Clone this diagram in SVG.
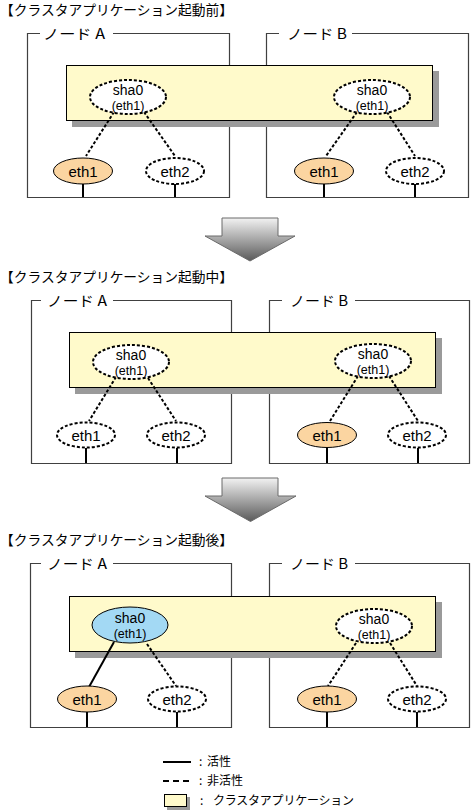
<svg xmlns="http://www.w3.org/2000/svg" width="471" height="810" viewBox="0 0 471 810">
<defs>
<linearGradient id="ag" x1="0" y1="0" x2="0" y2="1">
<stop offset="0" stop-color="#f2f2f2"/>
<stop offset="1" stop-color="#5a5a5a"/>
</linearGradient>
<style>
.bg{fill:#fff}
.box{fill:none;stroke:#404040;stroke-width:1.2}
.app{fill:#FFFACB;stroke:#000;stroke-width:1}
.shd{fill:#9a9a9a}
.de{fill:#fff;stroke:#000;stroke-width:2;stroke-dasharray:3 2}
.ae{fill:#FBD5A1;stroke:#000;stroke-width:1}
.be{fill:#A3D9F4;stroke:#000;stroke-width:1}
.dl{stroke:#000;stroke-width:2;stroke-dasharray:3 2;fill:none}
.sl{stroke:#000;stroke-width:2;fill:none}
.vl{stroke:#000;stroke-width:2}
.arr{fill:url(#ag);stroke:#6a6a6a;stroke-width:1}
.t{font-family:"Liberation Sans",Arial,sans-serif;fill:#000;text-anchor:middle}
.n{font-size:15px}
.h{font-size:14px}
.s{font-size:12.5px}
.j{font-family:"Noto Sans CJK JP","Liberation Sans",sans-serif;fill:#000}
.ttl{font-size:13.5px}
.lbl{font-size:14px}
.lg{font-size:12px}
</style>
</defs>
<rect class="bg" x="0" y="0" width="471" height="810"/>

<!-- Titles -->
<text class="j ttl" x="0" y="15" textLength="233" lengthAdjust="spacingAndGlyphs">【クラスタアプリケーション起動前】</text>
<text class="j ttl" x="0" y="282" textLength="233" lengthAdjust="spacingAndGlyphs">【クラスタアプリケーション起動中】</text>
<text class="j ttl" x="0" y="545" textLength="233" lengthAdjust="spacingAndGlyphs">【クラスタアプリケーション起動後】</text>

<!-- ===== Section 1 ===== -->
<g id="s1-nodeA">
<path class="box" d="M40 33.5 H27.5 V197.5 H229.5 V33.5 H113"/>
<text class="j lbl" x="43" y="38.5" textLength="62" lengthAdjust="spacingAndGlyphs">ノード A</text>
</g>
<g id="s1-nodeB">
<path class="box" d="M279 33.5 H266.5 V197.5 H468.5 V33.5 H352"/>
<text class="j lbl" x="287" y="38.5" textLength="60" lengthAdjust="spacingAndGlyphs">ノード B</text>
</g>
<g id="s1-app">
<rect class="shd" x="72" y="71" width="367" height="56"/>
<rect class="app" x="66.5" y="65.5" width="366" height="55"/>
</g>
<g id="s1-connectors">
<line class="dl" x1="114" y1="112" x2="86" y2="156"/>
<line class="dl" x1="144" y1="112" x2="175" y2="156"/>
<line class="dl" x1="357" y1="112" x2="326" y2="156"/>
<line class="dl" x1="387" y1="112" x2="415" y2="156"/>
<line class="vl" x1="83" y1="184" x2="83" y2="197"/>
<line class="vl" x1="175" y1="184" x2="175" y2="197"/>
<line class="vl" x1="324" y1="184" x2="324" y2="197"/>
<line class="vl" x1="415" y1="184" x2="415" y2="197"/>
</g>
<g id="s1-shaA">
<ellipse class="de" cx="128" cy="97" rx="38" ry="17"/>
<text class="t h" x="128" y="95">sha0</text>
<text class="t s" x="128" y="109.5">(eth1)</text>
</g>
<g id="s1-shaB">
<ellipse class="de" cx="372" cy="97" rx="38" ry="17"/>
<text class="t h" x="372" y="95">sha0</text>
<text class="t s" x="372" y="109.5">(eth1)</text>
</g>
<g id="s1-eth1A">
<ellipse class="ae" cx="83" cy="171" rx="29.5" ry="13"/>
<text class="t n" x="83" y="176.5">eth1</text>
</g>
<g id="s1-eth2A">
<ellipse class="de" cx="175" cy="171" rx="29" ry="13"/>
<text class="t n" x="175" y="176.5">eth2</text>
</g>
<g id="s1-eth1B">
<ellipse class="ae" cx="324" cy="171" rx="29.5" ry="13"/>
<text class="t n" x="324" y="176.5">eth1</text>
</g>
<g id="s1-eth2B">
<ellipse class="de" cx="415" cy="171" rx="29" ry="13"/>
<text class="t n" x="415" y="176.5">eth2</text>
</g>

<!-- Arrow 1 -->
<g id="arrow1">
<polygon class="arr" points="222,218 278,218 278,236 295,236 250,261 205,236 222,236"/>
</g>

<!-- ===== Section 2 ===== -->
<g id="s2-nodeA">
<path class="box" d="M41 300.5 H31.5 V463.5 H231.5 V300.5 H113"/>
<text class="j lbl" x="47" y="306" textLength="60" lengthAdjust="spacingAndGlyphs">ノード A</text>
</g>
<g id="s2-nodeB">
<path class="box" d="M282 300.5 H269.5 V463.5 H469.5 V300.5 H355"/>
<text class="j lbl" x="290" y="306" textLength="58" lengthAdjust="spacingAndGlyphs">ノード B</text>
</g>
<g id="s2-app">
<rect class="shd" x="75" y="338" width="367" height="56"/>
<rect class="app" x="69.5" y="332.5" width="366" height="55"/>
</g>
<g id="s2-connectors">
<line class="dl" x1="116" y1="377" x2="89" y2="421"/>
<line class="dl" x1="148" y1="378" x2="176" y2="421"/>
<line class="dl" x1="358" y1="376" x2="330" y2="421"/>
<line class="dl" x1="389" y1="376" x2="418" y2="421"/>
<line class="vl" x1="86" y1="448" x2="86" y2="463"/>
<line class="vl" x1="177" y1="448" x2="177" y2="463"/>
<line class="vl" x1="327" y1="448" x2="327" y2="463"/>
<line class="vl" x1="418" y1="448" x2="418" y2="463"/>
</g>
<g id="s2-shaA">
<ellipse class="de" cx="131" cy="362" rx="38" ry="17"/>
<text class="t h" x="131" y="360">sha0</text>
<text class="t s" x="131" y="374.5">(eth1)</text>
</g>
<g id="s2-shaB">
<ellipse class="de" cx="373" cy="361" rx="38" ry="17"/>
<text class="t h" x="373" y="359">sha0</text>
<text class="t s" x="373" y="373.5">(eth1)</text>
</g>
<g id="s2-eth1A">
<ellipse class="de" cx="86" cy="435" rx="29" ry="12.5"/>
<text class="t n" x="86" y="440.5">eth1</text>
</g>
<g id="s2-eth2A">
<ellipse class="de" cx="176" cy="435" rx="29" ry="12.5"/>
<text class="t n" x="176" y="440.5">eth2</text>
</g>
<g id="s2-eth1B">
<ellipse class="ae" cx="327" cy="435" rx="29.5" ry="12.5"/>
<text class="t n" x="327" y="440.5">eth1</text>
</g>
<g id="s2-eth2B">
<ellipse class="de" cx="417" cy="435" rx="29" ry="12.5"/>
<text class="t n" x="417" y="440.5">eth2</text>
</g>

<!-- Arrow 2 -->
<g id="arrow2">
<polygon class="arr" points="222,478 278,478 278,496 296,496 250.5,521.5 205,496 222,496"/>
</g>

<!-- ===== Section 3 ===== -->
<g id="s3-nodeA">
<path class="box" d="M41 563.5 H30.5 V727.5 H231.5 V563.5 H113"/>
<text class="j lbl" x="47" y="569" textLength="60" lengthAdjust="spacingAndGlyphs">ノード A</text>
</g>
<g id="s3-nodeB">
<path class="box" d="M282 563.5 H269.5 V727.5 H469.5 V563.5 H355"/>
<text class="j lbl" x="290" y="569" textLength="58" lengthAdjust="spacingAndGlyphs">ノード B</text>
</g>
<g id="s3-app">
<rect class="shd" x="75" y="602" width="367" height="56"/>
<rect class="app" x="69.5" y="596.5" width="366" height="55"/>
</g>
<g id="s3-connectors">
<line class="sl" x1="114" y1="642" x2="89" y2="687"/>
<line class="dl" x1="147" y1="644" x2="176" y2="686"/>
<line class="dl" x1="356" y1="643" x2="328" y2="686"/>
<line class="dl" x1="390" y1="643" x2="417" y2="686"/>
<line class="vl" x1="87" y1="712" x2="87" y2="727"/>
<line class="vl" x1="177" y1="712" x2="177" y2="727"/>
<line class="vl" x1="327" y1="712" x2="327" y2="727"/>
<line class="vl" x1="417" y1="712" x2="417" y2="727"/>
</g>
<g id="s3-shaA">
<ellipse class="be" cx="130" cy="625" rx="38" ry="18"/>
<text class="t h" x="130" y="623">sha0</text>
<text class="t s" x="130" y="637.5">(eth1)</text>
</g>
<g id="s3-shaB">
<ellipse class="de" cx="374" cy="626" rx="38" ry="17"/>
<text class="t h" x="374" y="624">sha0</text>
<text class="t s" x="374" y="638.5">(eth1)</text>
</g>
<g id="s3-eth1A">
<ellipse class="ae" cx="87" cy="699" rx="29.5" ry="13"/>
<text class="t n" x="87" y="704.5">eth1</text>
</g>
<g id="s3-eth2A">
<ellipse class="de" cx="177" cy="699" rx="29" ry="12.5"/>
<text class="t n" x="177" y="704.5">eth2</text>
</g>
<g id="s3-eth1B">
<ellipse class="ae" cx="327" cy="699" rx="29.5" ry="13"/>
<text class="t n" x="327" y="704.5">eth1</text>
</g>
<g id="s3-eth2B">
<ellipse class="de" cx="417" cy="699" rx="29" ry="12.5"/>
<text class="t n" x="417" y="704.5">eth2</text>
</g>

<!-- Legend -->
<g id="legend">
<line class="sl" x1="163" y1="762" x2="191" y2="762"/>
<text class="j lg" x="199" y="766">:<tspan x="207">活性</tspan></text>
<line class="sl" x1="163" y1="781" x2="191" y2="781" stroke-dasharray="6 4"/>
<text class="j lg" x="199" y="785">:<tspan x="207">非活性</tspan></text>
<rect class="shd" x="167" y="797" width="23" height="13"/>
<rect class="app" x="164.5" y="794.5" width="22" height="12"/>
<text class="j lg" x="200" y="805">:<tspan x="213" textLength="141" lengthAdjust="spacing">クラスタアプリケーション</tspan></text>
</g>
</svg>
